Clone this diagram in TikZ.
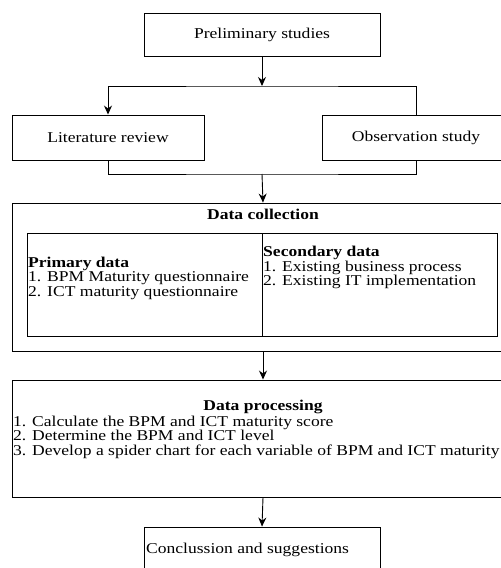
\documentclass[tikz,border=0pt]{standalone}
\usepackage{fontspec}
\setmainfont{Liberation Serif}[FakeStretch=1.17]
\usetikzlibrary{
  arrows.meta,
  positioning,
}

\begin{document}
\begin{tikzpicture}[
  x=1pt,
  y=-1pt,
  font={\fontsize{15}{14.5}\selectfont},
  box/.style={
    draw=black,
    line width=0.9pt,
    inner sep=0pt,
  },
  list/.style={
    align=left,
    inner sep=1pt,
  },
  title/.style={
    font={\fontsize{15}{14.5}\selectfont\bfseries},
    inner sep=0pt,
  },
  arrow/.style={
    -{Stealth[length=9pt,width=8pt]},
    line width=0.9pt,
  },
  link/.style={
    line width=0.9pt,
  },
]
  \useasboundingbox (0,0) rectangle (501,568);

  %%%%%%%%%%%%%%%%%%%% Preliminary %%%%%%%%%%%%%%%%%%%%

  \node[box, minimum width=236, minimum height=43] (pre) at (262,34.5)
    {Preliminary studies};

  \node[box, minimum width=192, minimum height=45] (lit) at (108,137.5)
    {Literature review};
  \node[box, minimum width=188, minimum height=45] (obs) at (416,137.5)
    {Observation study};

  \coordinate (split) at (262,86);
  \coordinate (join) at (262,174);

  \draw[arrow] (pre) -- (split);
  \draw[arrow] (obs.north) |- (split) -| (lit.north);
  \draw[link] (lit.south) |- (join) -| (obs.south);

  %%%%%%%%%%%%%%%%%%%% Data collection %%%%%%%%%%%%%%%%%%%%

  \node[box, minimum width=502, minimum height=148] (dc) at (263,277) {};
  \node[title, anchor=base] (dctitle) at (263,219.5) {Data collection};

  \node[box, minimum width=235, minimum height=103] (pd) at (144.5,284.5) {};
  \node[box, minimum width=235.5, minimum height=103] (sd) at (379.75,284.5) {};

  % base = last line
  \node[list, anchor=base west] (pdtext) at (27,296)
    {\textbf{Primary data}\\
     1. BPM Maturity questionnaire\\
     2. ICT maturity questionnaire};
  \node[list, anchor=base west] (sdtext) at (262,285.5)
    {\textbf{Secondary data}\\
     1. Existing business process\\
     2. Existing IT implementation};

  \draw[arrow] (join) -- (dc.north);

  %%%%%%%%%%%%%%%%%%%% Data processing %%%%%%%%%%%%%%%%%%%%

  \node[box, minimum width=502, minimum height=117] (dp) at (263,438.5) {};
  \node[title, anchor=base] (dptitle) at (263,410) {Data processing};
  \node[list, anchor=base west] (dptext) at (12,455)
    {1. Calculate the BPM and ICT maturity score\\
     2. Determine the BPM and ICT level\\
     3. Develop a spider chart for each variable of BPM and ICT maturity};

  \draw[arrow] (dc.south) -- (dp.north);

  %%%%%%%%%%%%%%%%%%%% Conclusion %%%%%%%%%%%%%%%%%%%%

  \node[box, minimum width=236, minimum height=43] (con) at (262,548.5) {};
  \node[list, anchor=base west] (context) at (145,553)
    {Conclussion and suggestions};

  \draw[arrow] (dp.south) -- (con.north);
\end{tikzpicture}
\end{document}
